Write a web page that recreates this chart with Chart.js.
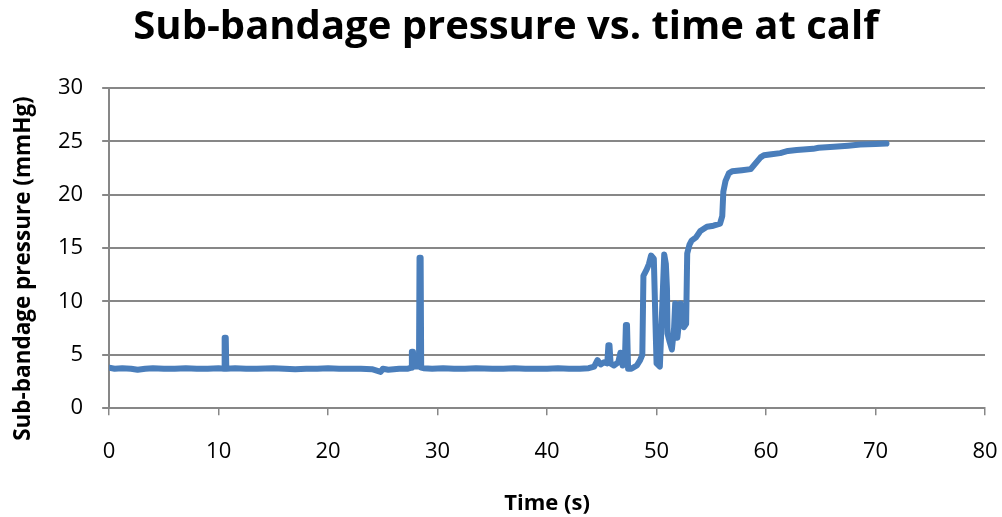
<!DOCTYPE html>
<html>
<head>
<meta charset="utf-8">
<script src="https://cdn.jsdelivr.net/npm/chart.js@4"></script>
<style>
  html, body { margin: 0; padding: 0; background: #fff; }
  #wrap { width: 1002px; height: 517px; }
</style>
</head>
<body>
<div id="wrap"><canvas id="chart" width="1002" height="517"></canvas></div>
<script>
// Temps (s) et pression
const timeS = [
  0, 0.5, 1.2, 2, 2.6, 3.3, 4, 5, 6, 7, 8, 9, 10, 10.5, 10.55, 10.65, 10.7,
  11.5, 12.5, 13.5, 15, 16, 17, 18, 19, 20, 21, 22, 23, 24, 24.8, 25, 25.5,
  26.5, 27.3, 27.6, 27.65, 27.75, 27.85, 28.3, 28.35, 28.45, 28.5, 28.7, 29.5,
  30.5, 31.5, 32.5, 33.5, 35, 36, 37, 38, 39, 40, 41, 42, 43, 43.8, 44.3, 44.6,
  44.9, 45.2, 45.5, 45.6, 45.7, 45.8, 46.1, 46.5, 46.7, 46.9, 47.1, 47.2, 47.3,
  47.4, 47.7, 48.2, 48.5, 48.7, 48.8, 49.1, 49.3, 49.5, 49.75, 49.9, 50.0,
  50.3, 50.5, 50.7, 50.85, 50.95, 51.0, 51.2, 51.4, 51.6, 51.7, 51.9, 52.1,
  52.2, 52.35, 52.5, 52.7, 52.8, 53.0, 53.2, 53.6, 54.0, 54.6, 55.2, 55.8,
  56.0, 56.1, 56.3, 56.6, 56.9, 57.8, 58.6, 59.0, 59.5, 59.8, 60.5, 61.3, 62.0,
  62.8, 64.3, 64.8, 66.2, 67.5, 68.6, 70.0, 71.0
];
const pressure = [
  3.8, 3.7, 3.75, 3.7, 3.6, 3.7, 3.75, 3.7, 3.7, 3.75, 3.7, 3.7, 3.75, 3.7, 6.6, 6.6, 3.7,
  3.75, 3.7, 3.7, 3.75, 3.7, 3.65, 3.7, 3.7, 3.75, 3.7, 3.7, 3.7, 3.65, 3.4, 3.7, 3.6,
  3.7, 3.7, 3.8, 5.3, 5.3, 3.9, 3.9, 14.1, 14.1, 3.8, 3.75, 3.7,
  3.75, 3.7, 3.7, 3.75, 3.7, 3.7, 3.75, 3.7, 3.7, 3.7, 3.75, 3.7, 3.7, 3.75, 3.9, 4.5,
  4.1, 4.3, 4.2, 5.9, 5.9, 4.2, 4.0, 4.3, 5.2, 4.0, 4.2, 7.8, 7.8,
  3.7, 3.7, 4.0, 4.5, 5.0, 12.4, 13.0, 13.5, 14.3, 14.0, 8.0, 4.2,
  3.9, 9.0, 14.4, 13.5, 11.2, 7.0, 6.2, 5.5, 7.5, 9.8, 6.6, 8.5,
  9.8, 8.0, 7.6, 7.9, 14.5, 15.3, 15.7, 16.0, 16.6, 17.0, 17.1, 17.3,
  18.0, 20.3, 21.3, 22.0, 22.2, 22.3, 22.4, 22.9, 23.5, 23.7, 23.8, 23.9, 24.1,
  24.2, 24.3, 24.4, 24.5, 24.6, 24.7, 24.75, 24.8
];
const xTicks = [0, 10, 20, 30, 40, 50, 60, 70, 80];
const yTicks = [0, 5, 10, 15, 20, 25, 30];

const LINE_COLOR = '#4a7ebb';
const GRID_COLOR = '#878787';
const FONT = "'Open Sans', sans-serif";

(function () {
  'use strict';
  const points = timeS.map((t, i) => ({ x: t, y: pressure[i] }));

  new Chart(document.getElementById('chart'), {
    type: 'line',
    data: {
      datasets: [{
        data: points,
        borderColor: LINE_COLOR,
        borderWidth: 6,
        pointRadius: 0,
        tension: 0,
        borderCapStyle: 'round',
        borderJoinStyle: 'round',
        fill: false,
      }],
    },
    options: {
      responsive: false,
      animation: false,
      layout: { padding: { left: 10, right: 0, top: 4, bottom: 0 } },
      plugins: {
        legend: { display: false },
        tooltip: { enabled: false },
        title: {
          display: true,
          text: 'Sub-bandage pressure vs. time at calf',
          color: '#000',
          font: { family: FONT, size: 40, weight: 'bold' },
          padding: { top: 0, bottom: 36 },
        },
      },
      scales: {
        x: {
          type: 'linear',
          min: xTicks[0],
          max: xTicks[xTicks.length - 1],
          afterBuildTicks: (axis) => { axis.ticks = xTicks.map(v => ({ value: v })); },
          // marge droite : juste la moitié du label "80"
          afterFit: (axis) => { axis.paddingRight = 17; },
          grid: { drawOnChartArea: false, color: GRID_COLOR, tickLength: 7, lineWidth: 1.5 },
          border: { color: GRID_COLOR, width: 2 },
          ticks: { color: '#000', font: { family: FONT, size: 22 }, padding: 23, maxRotation: 0 },
          title: {
            display: true,
            text: 'Time (s)',
            color: '#000',
            font: { family: FONT, size: 22, weight: 'bold' },
            padding: { top: 3, bottom: 0 },
          },
        },
        y: {
          min: yTicks[0],
          max: yTicks[yTicks.length - 1],
          afterBuildTicks: (axis) => { axis.ticks = yTicks.map(v => ({ value: v })); },
          grid: { color: GRID_COLOR, tickLength: 7, lineWidth: 2 },
          border: { color: GRID_COLOR, width: 2 },
          ticks: { color: '#000', font: { family: FONT, size: 22 }, padding: 19 },
          title: {
            display: true,
            // espaces insécables : décale le titre vers le bas comme dans l'original
            text: 'Sub-bandage pressure (mmHg)' + '\u00a0'.repeat(7),
            color: '#000',
            font: { family: FONT, size: 22.5, weight: 'bold' },
            padding: { top: 0, bottom: 2 },
          },
        },
      },
    },
  });
})();
</script>
</body>
</html>
